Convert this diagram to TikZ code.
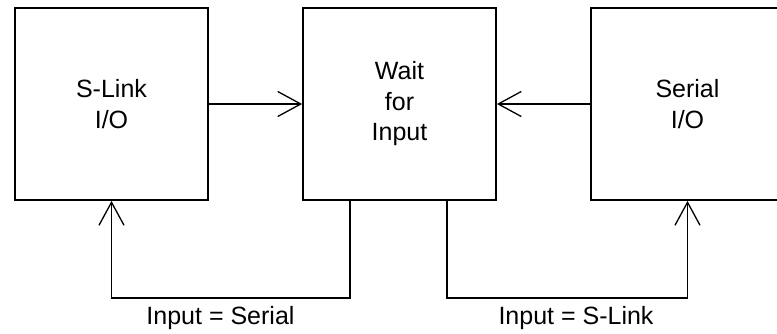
\documentclass[tikz,border=0pt]{standalone}
\usepackage{fontspec}
\setmainfont{Liberation Sans}
\usetikzlibrary{arrows.meta}
\begin{document}
\begin{tikzpicture}[x=1pt,y=-1pt,
  box/.style={draw,line width=1.8pt,minimum width=193pt,minimum height=192pt,inner sep=0pt,
    align=center,font=\fontsize{25}{30.5}\selectfont},
  arr/.style={line width=1.8pt,-{Straight Barb[length=23pt,width=25pt,line width=1.3pt]}},
  lab/.style={font=\fontsize{25}{30}\selectfont,inner sep=0pt,anchor=base}]
\useasboundingbox (0,0) rectangle (777,333);
\node[box] (s) at (111.5,104) {S-Link\\I/O};
\node[box] (w) at (399.5,104) {Wait\\for\\Input};
\node[box] (r) at (687.5,104) {Serial\\I/O};
\draw[arr] (s.east) -- (w.west);
\draw[arr] (r.west) -- (w.east);
\draw[arr] ([xshift=48pt]w.south west) -- ++(0,97) -| (s.south);
\draw[arr] ([xshift=145pt]w.south west) -- ++(0,97) -| (r.south);
\node[lab] (l1) at (220.5,324) {Input = Serial};
\node[lab] (l2) at (576,324) {Input = S-Link};
\end{tikzpicture}
\end{document}
